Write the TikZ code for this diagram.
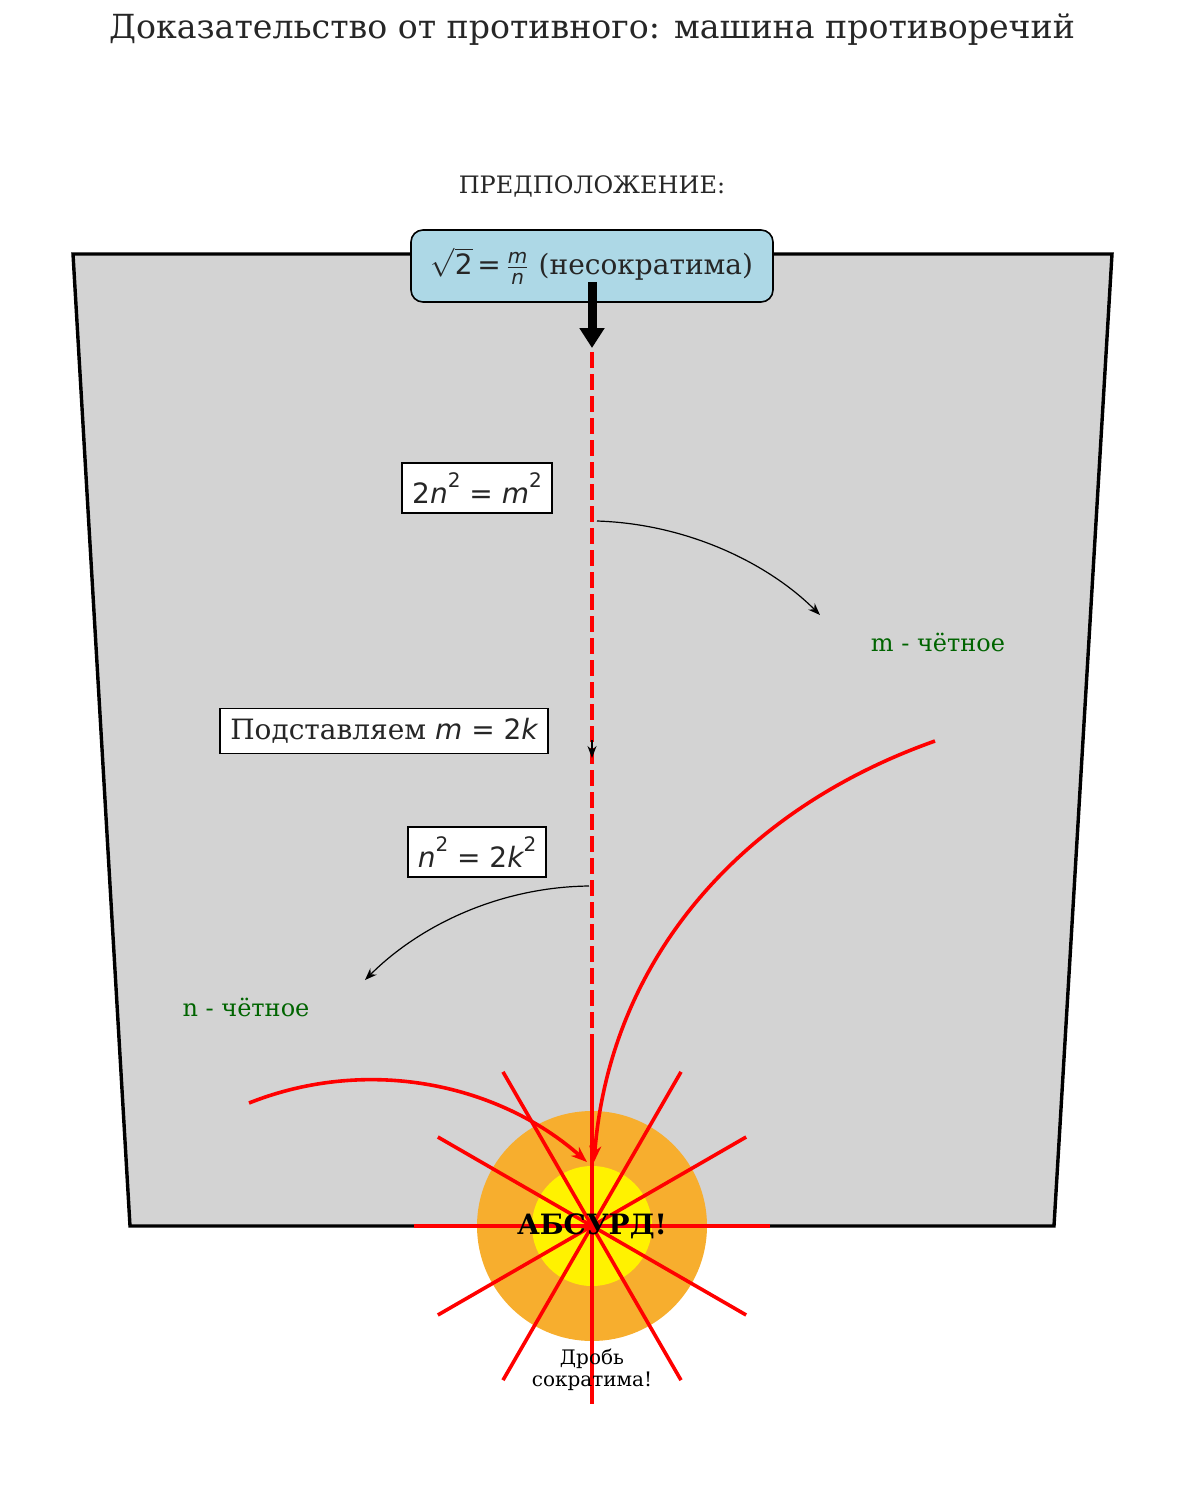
\documentclass[tikz,border=0pt]{standalone}
\usepackage{fontspec}
\setmainfont{DejaVu Serif}
\newfontfamily\msans{DejaVu Sans}
\newcommand{\mv}[1]{{\msans\itshape #1}}
\newcommand{\mn}[1]{{\msans #1}}
\newcommand{\sq}{\raisebox{0.55em}{\msans\fontsize{10}{10}\selectfont 2}}
\newcommand{\sm}[1]{{\msans\itshape\fontsize{10}{10}\selectfont #1}}
\usetikzlibrary{arrows.meta}
\definecolor{lg}{HTML}{D3D3D3}
\definecolor{lb}{HTML}{ADD8E6}
\definecolor{og}{HTML}{F7AE2E}
\definecolor{dg}{HTML}{006400}
\definecolor{tx}{HTML}{262626}
\begin{document}
\begin{tikzpicture}[x=0.5pt,y=-0.5pt,
  box/.style={draw=black,fill=white,line width=0.8pt,inner sep=5pt,text=tx,font=\fontsize{14}{16}\selectfont},
  thin arr/.style={-{Stealth[length=6pt]},line width=0.6pt},
  red arr/.style={red,line width=1.8pt,-{Stealth[length=8pt]}},
  ray/.style={red,line width=1.8pt}]
\useasboundingbox (0,0) rectangle (1185,1485);
\node[text=tx,font=\fontsize{16.6}{18}\selectfont] (title) at (592,30) {Доказательство от противного: машина противоречий};
\node[text=tx,font=\fontsize{12}{14}\selectfont] (pre) at (592,186) {ПРЕДПОЛОЖЕНИЕ:};
\draw[fill=lg,line width=1.7pt] (73,254) -- (1112,254) -- (1054,1226) -- (130,1226) -- cycle;
% explosion
\fill[og] (592,1226) circle (115);
\fill[yellow] (592,1226) circle (60);
\foreach \a in {0,30,...,330}{\draw[ray] (592,1226) -- ++(\a:178);}
\node[font=\bfseries\fontsize{14}{16}\selectfont] (abs) at (592,1226) {АБСУРД!};
\node[align=center,font=\fontsize{10}{11}\selectfont] (frac) at (592,1370) {Дробь\\сократима!};
% assumption
\node[draw=black,fill=lb,rounded corners=6pt,line width=0.8pt,minimum width=181pt,minimum height=36pt,text=tx,font=\fontsize{14}{16}\selectfont] (as) at (592,266) {$\sqrt{\mbox{\mn{2}}}$\,\mn{=}\,$\frac{\mbox{\sm{m}}}{\mbox{\sm{n}}}$ (несократима)};
\coordinate (t1) at (592,282);
\coordinate (t2) at (592,348);
\draw[line width=4.5pt,-{Triangle[length=10pt,width=12pt]}] (t1) -- (t2);
\coordinate (d1) at (592,352);
\coordinate (d2) at (592,1160);
\draw[red,line width=1.8pt,dash pattern=on 8pt off 3pt] (d1) -- (d2);
\node[box] (e1) at (477,488) {\mn{2}\mv{n}\sq{} \mn{=} \mv{m}\sq};
\node[box] (e2) at (384,731) {Подставляем \mv{m} \mn{=} \mn{2}\mv{k}};
\node[box] (e3) at (477,852) {\mv{n}\sq{} \mn{=} \mn{2}\mv{k}\sq};
\node[text=dg,font=\fontsize{12}{14}\selectfont] (me) at (938,642) {m - чётное};
\node[text=dg,font=\fontsize{12}{14}\selectfont] (ne) at (246,1007) {n - чётное};
\coordinate (a1) at (597,521); \coordinate (a2) at (820,615);
\draw[thin arr] (a1) .. controls (690,524) and (770,565) .. (a2);
\coordinate (s1) at (592,740); \coordinate (s2) at (592,758);
\draw[thin arr] (s1) -- (s2);
\coordinate (b1) at (589,886); \coordinate (b2) at (365,980);
\draw[thin arr] (b1) .. controls (500,887) and (420,925) .. (b2);
\coordinate (r1) at (935,741); \coordinate (r2) at (594,1162);
\draw[red arr] (r1) .. controls (740,810) and (610,960) .. (r2);
\coordinate (l1) at (249,1103); \coordinate (l2) at (587,1162);
\draw[red arr] (l1) .. controls (370,1055) and (500,1085) .. (l2);
\end{tikzpicture}
\end{document}
